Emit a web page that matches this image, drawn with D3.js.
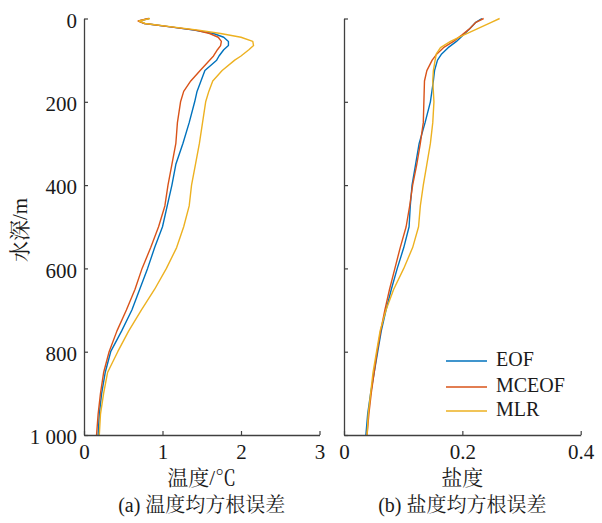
<!DOCTYPE html>
<html>
<head>
<meta charset="utf-8">
<script src="https://cdn.jsdelivr.net/npm/d3@7"></script>
<style>
body { margin: 0; background: #fff; }
text { font-family: "Liberation Serif", "Times New Roman", "Noto Serif CJK SC", "Noto Sans CJK SC", serif; fill: #1a1a1a; }
</style>
</head>
<body>
<svg id="chart" width="602" height="523"></svg>
<script>
// ---- data ----
const seriesNames = ["EOF", "MCEOF", "MLR"];
const seriesColors = ["#0072BD", "#D95319", "#EDB120"];

// temperature RMSE (°C) vs depth (m)
const tempDepth = [0, 6, 12, 20, 28, 36, 45, 55, 65, 75, 90, 100, 125, 150, 175, 200, 250, 300, 350, 400, 450, 500, 550, 600, 650, 700, 750, 800, 850, 900, 950, 1000];
const tempEOF   = [0.83, 0.70, 0.77, 1.10, 1.40, 1.65, 1.78, 1.84, 1.84, 1.78, 1.72, 1.69, 1.54, 1.49, 1.44, 1.41, 1.34, 1.26, 1.17, 1.12, 1.06, 1.00, 0.90, 0.81, 0.71, 0.61, 0.48, 0.34, 0.27, 0.225, 0.195, 0.18];
const tempMCEOF = [0.82, 0.69, 0.77, 1.10, 1.42, 1.60, 1.71, 1.75, 1.74, 1.70, 1.65, 1.60, 1.48, 1.36, 1.27, 1.23, 1.19, 1.17, 1.12, 1.07, 1.03, 0.95, 0.85, 0.74, 0.65, 0.54, 0.42, 0.32, 0.25, 0.21, 0.18, 0.16];
const tempMLR   = [0.84, 0.70, 0.78, 1.12, 1.46, 1.74, 2.00, 2.15, 2.16, 2.10, 2.00, 1.92, 1.76, 1.64, 1.59, 1.55, 1.51, 1.47, 1.42, 1.37, 1.34, 1.27, 1.18, 1.05, 0.90, 0.73, 0.57, 0.43, 0.30, 0.25, 0.21, 0.195];

// salinity RMSE vs depth (m)
const salDepth = [0, 10, 25, 40, 55, 70, 85, 100, 125, 150, 200, 250, 300, 350, 400, 450, 500, 550, 600, 650, 700, 750, 800, 850, 900, 950, 1000];
const salEOF   = [0.233, 0.222, 0.212, 0.201, 0.190, 0.176, 0.165, 0.158, 0.153, 0.151, 0.146, 0.137, 0.127, 0.121, 0.115, 0.112, 0.110, 0.101, 0.090, 0.080, 0.071, 0.063, 0.057, 0.051, 0.045, 0.040, 0.037];
const salMCEOF = [0.236, 0.222, 0.212, 0.199, 0.185, 0.168, 0.157, 0.149, 0.140, 0.136, 0.135, 0.134, 0.129, 0.123, 0.116, 0.111, 0.105, 0.095, 0.086, 0.077, 0.069, 0.062, 0.056, 0.051, 0.046, 0.042, 0.039];
const salMLR   = [0.263, 0.248, 0.225, 0.202, 0.180, 0.163, 0.156, 0.154, 0.151, 0.150, 0.152, 0.150, 0.146, 0.140, 0.134, 0.129, 0.126, 0.116, 0.101, 0.084, 0.071, 0.061, 0.055, 0.049, 0.045, 0.041, 0.039];

const depthTicks = [0, 200, 400, 600, 800, 1000];
const depthTickLabels = ["0", "200", "400", "600", "800", "1 000"];
const tempTicks = [0, 1, 2, 3];
const salTicks = [0, 0.2, 0.4];
const salTickLabels = ["0", "0.2", "0.4"];

const yLabel = "水深/m";
const xLabelA = "温度/℃";
const xLabelB = "盐度";
const captionA = "(a) 温度均方根误差";
const captionB = "(b) 盐度均方根误差";

// ---- drawing ----
const svg = d3.select("#chart");
const plotTop = 18.5, plotBottom = 435;
const y = d3.scaleLinear().domain([0, 1000]).range([plotTop, plotBottom]);
const axisColor = "#404040";

function panel(x0, x1, domain, ticks, tickFmt, depth, series, xLabel, caption, showY) {
  const x = d3.scaleLinear().domain(domain).range([x0, x1]);
  const g = svg.append("g");

  const line = d3.line().x(d => x(d[0])).y(d => y(d[1]));
  series.forEach((vals, i) => {
    g.append("path")
      .datum(vals.map((v, k) => [v, depth[k]]))
      .attr("fill", "none")
      .attr("stroke", seriesColors[i])
      .attr("stroke-width", 1.4)
      .attr("stroke-linejoin", "round")
      .attr("d", line);
  });

  const xa = g.append("g").attr("transform", `translate(0,${plotBottom})`)
    .call(d3.axisBottom(x).tickValues(ticks).tickFormat(tickFmt).tickSizeInner(-4).tickSizeOuter(0).tickPadding(9));
  const ya = g.append("g").attr("transform", `translate(${x0},0)`)
    .call(d3.axisLeft(y).tickValues(depthTicks).tickFormat((d, i) => showY ? depthTickLabels[i] : "").tickSizeInner(-4).tickSizeOuter(0).tickPadding(7));
  [xa, ya].forEach(a => {
    a.select(".domain").attr("stroke", axisColor).attr("stroke-width", 1.3);
    a.selectAll(".tick line").attr("stroke", axisColor).attr("stroke-width", 1.2);
    a.selectAll(".tick text").attr("fill", "#1a1a1a").style("font-size", "21px")
      .style("font-family", "'Liberation Serif', serif");
  });
  ya.selectAll(".tick text").attr("dy", "0.42em");

  const cx = (x0 + x1) / 2;
  g.append("text").attr("x", cx).attr("y", 480).attr("text-anchor", "middle")
    .attr("dominant-baseline", "middle").style("font-size", "21px").text(xLabel);
  g.append("text").attr("x", cx).attr("y", 507).attr("text-anchor", "middle")
    .attr("dominant-baseline", "middle").style("font-size", "20px").text(caption);
}

panel(84, 319.5, [0, 3], tempTicks, d => String(d), tempDepth, [tempEOF, tempMCEOF, tempMLR], xLabelA, captionA, true);
panel(344, 580.7, [0, 0.4], salTicks, (d, i) => salTickLabels[i], salDepth, [salEOF, salMCEOF, salMLR], xLabelB, captionB, false);

svg.append("text")
  .attr("transform", "translate(22,230) rotate(-90)")
  .attr("text-anchor", "middle").attr("dominant-baseline", "middle")
  .style("font-size", "21px").text(yLabel);

const legY = [361, 387, 411];
seriesNames.forEach((n, i) => {
  svg.append("line").attr("x1", 446).attr("x2", 487).attr("y1", legY[i]).attr("y2", legY[i])
    .attr("stroke", seriesColors[i]).attr("stroke-width", 1.4);
  svg.append("text").attr("x", 496).attr("y", legY[i]).attr("dominant-baseline", "middle")
    .style("font-size", "20px").text(n);
});
</script>
</body>
</html>
